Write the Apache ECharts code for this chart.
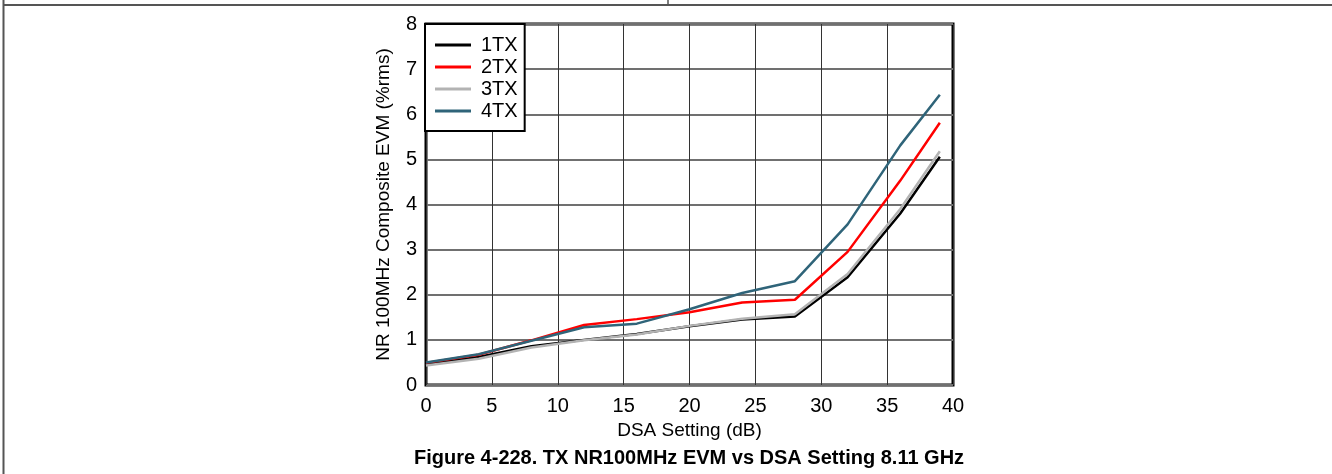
<!DOCTYPE html>
<html>
<head>
<meta charset="utf-8">
<script src="https://cdn.jsdelivr.net/npm/echarts@6/dist/echarts.min.js"></script>
<style>
html,body{margin:0;padding:0;background:#fff;}
#chart{width:1332px;height:474px;}
</style>
</head>
<body>
<div id="chart"></div>
<script>
const dsa = [0, 4, 8, 12, 16, 20, 24, 28, 32, 36, 39];
const tx1 = [0.46, 0.62, 0.86, 1.00, 1.13, 1.30, 1.45, 1.52, 2.39, 3.80, 5.06];
const tx2 = [0.49, 0.67, 0.99, 1.33, 1.46, 1.61, 1.83, 1.89, 2.95, 4.53, 5.81];
const tx3 = [0.43, 0.58, 0.83, 0.99, 1.12, 1.31, 1.47, 1.57, 2.46, 3.90, 5.18];
const tx4 = [0.50, 0.68, 0.98, 1.28, 1.36, 1.68, 2.04, 2.30, 3.56, 5.31, 6.43];
const seriesNames = ['1TX', '2TX', '3TX', '4TX'];
const seriesColors = ['#000000', '#ff0000', '#b3b3b3', '#2f6479'];
const xTitle = 'DSA Setting (dB)';
const yTitle = 'NR 100MHz Composite EVM (%rms)';
const figTitle = 'Figure 4-228. TX NR100MHz EVM vs DSA Setting 8.11 GHz';

const font = '"Liberation Sans", Arial, sans-serif';
const allData = [tx1, tx2, tx3, tx4];
const chart = echarts.init(document.getElementById('chart'), null, {renderer: 'canvas'});
const series = allData.map((d, i) => ({
  name: seriesNames[i],
  type: 'line',
  data: dsa.map((x, j) => [x, d[j]]),
  symbol: 'none',
  lineStyle: {color: seriesColors[i], width: 2.5},
  itemStyle: {color: seriesColors[i]},
  z: 3 + i
}));
chart.setOption({
  animation: false,
  textStyle: {fontFamily: font},
  grid: {left: 426, top: 24, width: 527, height: 361, show: true, borderColor: '#000', borderWidth: 3, backgroundColor: 'transparent'},
  legend: {
    left: 425, top: 24, orient: 'vertical',
    backgroundColor: '#fff', borderColor: '#000', borderWidth: 2, borderRadius: 0,
    padding: [11, 7, 10, 10],
    icon: 'rect',
    itemWidth: 36, itemHeight: 3, itemGap: 2,
    textStyle: {fontFamily: font, fontSize: 20, lineHeight: 20, color: '#000', padding: [0, 0, 0, 5]},
    data: seriesNames
  },
  xAxis: {
    type: 'value', min: 0, max: 40, interval: 5,
    name: xTitle, nameLocation: 'middle', nameGap: 32,
    nameTextStyle: {fontFamily: font, fontSize: 19, color: '#000'},
    axisLine: {show: false}, axisTick: {show: false},
    axisLabel: {fontFamily: font, fontSize: 20, color: '#000', margin: 11},
    splitLine: {show: true, lineStyle: {color: '#333', width: 1}}
  },
  yAxis: {
    type: 'value', min: 0, max: 8, interval: 1,
    name: yTitle, nameLocation: 'middle', nameGap: 33,
    nameTextStyle: {fontFamily: font, fontSize: 19, color: '#000'},
    axisLine: {show: false}, axisTick: {show: false},
    axisLabel: {fontFamily: font, fontSize: 20, color: '#000', margin: 9},
    splitLine: {show: true, lineStyle: {color: '#707070', width: 2}}
  },
  graphic: [
    {type: 'line', shape: {x1: 3.5, y1: 0, x2: 3.5, y2: 474}, style: {stroke: '#555', lineWidth: 2}},
    {type: 'line', shape: {x1: 3, y1: 5, x2: 1332, y2: 5}, style: {stroke: '#555', lineWidth: 2}},
    {type: 'line', shape: {x1: 668, y1: 0, x2: 668, y2: 5}, style: {stroke: '#555', lineWidth: 1.5}},
    {type: 'text', x: 689, y: 458, style: {text: figTitle, font: 'bold 20px ' + font, fill: '#000', textAlign: 'center', textVerticalAlign: 'middle'}}
  ],
  series: series
});
</script>
</body>
</html>
